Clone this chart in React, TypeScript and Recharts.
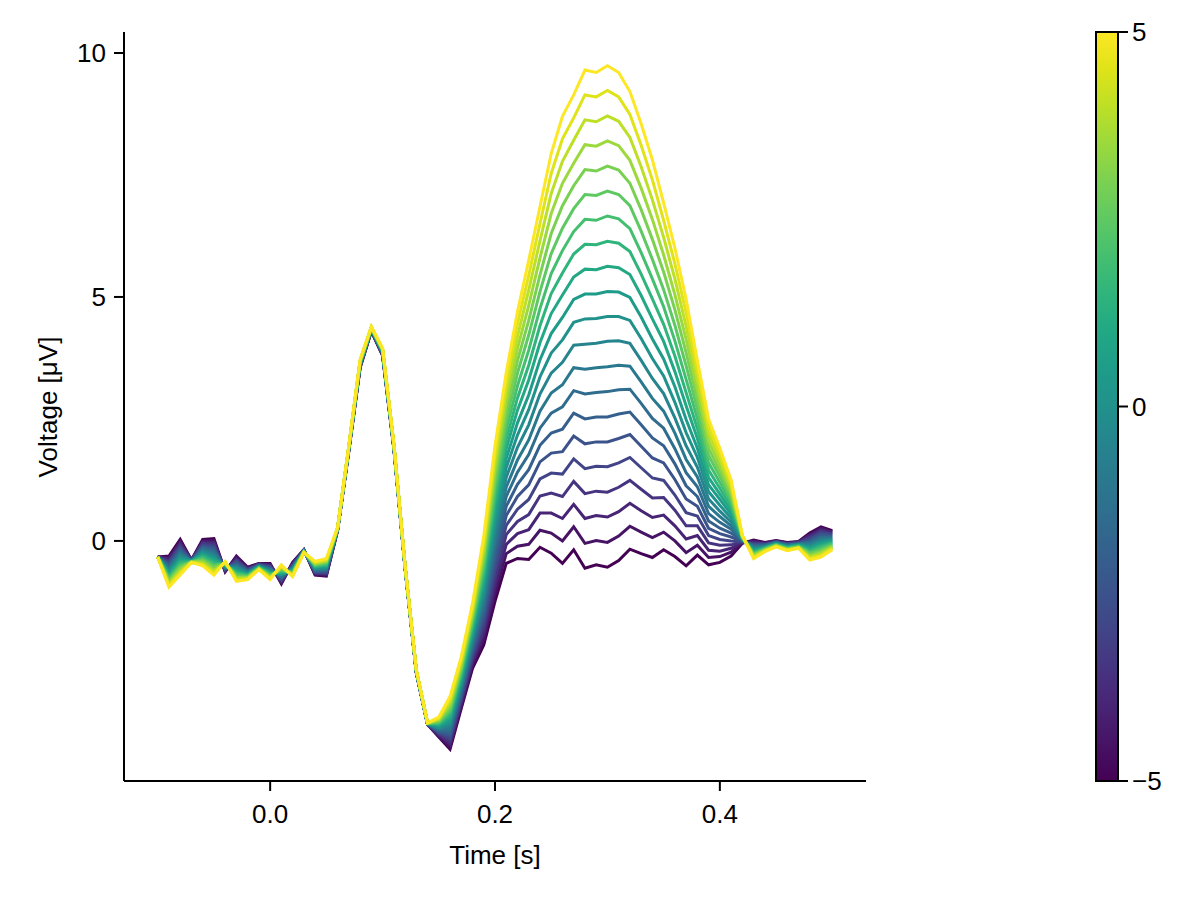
import { LineChart, Line, XAxis, YAxis } from "recharts";

// time axis, seconds
const times = [
  -0.1, -0.09, -0.08, -0.07, -0.06, -0.05, -0.04, -0.03, -0.02, -0.01,
  0.0, 0.01, 0.02, 0.03, 0.04, 0.05, 0.06, 0.07, 0.08, 0.09,
  0.1, 0.11, 0.12, 0.13, 0.14, 0.15, 0.16, 0.17, 0.18, 0.19,
  0.2, 0.21, 0.22, 0.23, 0.24, 0.25, 0.26, 0.27, 0.28, 0.29,
  0.3, 0.31, 0.32, 0.33, 0.34, 0.35, 0.36, 0.37, 0.38, 0.39,
  0.4, 0.41, 0.42, 0.43, 0.44, 0.45, 0.46, 0.47, 0.48, 0.49, 0.5,
];

// one curve per level of the continuous predictor (-5 .. 5)
const levels = [-5, -4.5, -4, -3.5, -3, -2.5, -2, -1.5, -1, -0.5, 0, 0.5, 1, 1.5, 2, 2.5, 3, 3.5, 4, 4.5, 5];

const curveM50 = [-0.33, -0.31, 0.03, -0.39, 0.03, 0.05, -0.63, -0.31, -0.54, -0.46, -0.46, -0.88, -0.44, -0.18, -0.7, -0.72, 0.22, 1.85, 3.55, 4.3, 3.8, 1.9, -0.55, -2.7, -3.76, -4.02, -4.27, -3.43, -2.61, -2.13, -1.24, -0.46, -0.36, -0.38, -0.13, -0.25, -0.46, -0.18, -0.56, -0.49, -0.54, -0.4, -0.17, -0.26, -0.34, -0.18, -0.32, -0.51, -0.29, -0.49, -0.44, -0.31, -0.05, 0.02, -0.03, 0.01, -0.03, -0.01, 0.16, 0.29, 0.21];
const curveM45 = [-0.33, -0.34, -0.01, -0.39, 0.0, 0.01, -0.62, -0.34, -0.55, -0.47, -0.48, -0.86, -0.45, -0.18, -0.69, -0.7, 0.22, 1.86, 3.56, 4.3, 3.81, 1.91, -0.55, -2.7, -3.76, -4.0, -4.22, -3.38, -2.54, -2.02, -1.08, -0.26, -0.11, -0.07, 0.22, 0.16, 0.0, 0.29, -0.05, 0.01, -0.03, 0.1, 0.3, 0.18, 0.07, 0.18, 0.0, -0.24, -0.09, -0.34, -0.32, -0.23, -0.04, 0.0, -0.04, 0.0, -0.04, -0.02, 0.13, 0.26, 0.19];
const curveM40 = [-0.33, -0.37, -0.04, -0.4, -0.02, -0.03, -0.61, -0.36, -0.57, -0.47, -0.49, -0.84, -0.47, -0.19, -0.67, -0.68, 0.23, 1.86, 3.57, 4.31, 3.82, 1.91, -0.55, -2.69, -3.76, -3.98, -4.16, -3.32, -2.48, -1.91, -0.92, -0.07, 0.15, 0.23, 0.57, 0.57, 0.46, 0.75, 0.46, 0.52, 0.49, 0.6, 0.77, 0.62, 0.48, 0.53, 0.31, 0.04, 0.11, -0.19, -0.21, -0.15, -0.03, -0.02, -0.05, 0.0, -0.05, -0.02, 0.11, 0.23, 0.17];
const curveM35 = [-0.33, -0.41, -0.08, -0.4, -0.05, -0.06, -0.6, -0.39, -0.58, -0.48, -0.51, -0.82, -0.48, -0.19, -0.66, -0.67, 0.23, 1.87, 3.57, 4.31, 3.82, 1.92, -0.54, -2.69, -3.76, -3.96, -4.11, -3.27, -2.41, -1.8, -0.76, 0.13, 0.4, 0.54, 0.92, 0.98, 0.91, 1.22, 0.97, 1.02, 1.0, 1.1, 1.24, 1.06, 0.88, 0.89, 0.63, 0.31, 0.31, -0.04, -0.09, -0.08, -0.02, -0.04, -0.06, -0.01, -0.06, -0.03, 0.08, 0.2, 0.15];
const curveM30 = [-0.33, -0.44, -0.12, -0.4, -0.08, -0.1, -0.59, -0.41, -0.59, -0.49, -0.53, -0.8, -0.5, -0.19, -0.64, -0.65, 0.23, 1.87, 3.58, 4.32, 3.83, 1.92, -0.54, -2.69, -3.75, -3.94, -4.05, -3.22, -2.34, -1.68, -0.6, 0.32, 0.65, 0.85, 1.27, 1.39, 1.37, 1.68, 1.48, 1.53, 1.52, 1.6, 1.71, 1.5, 1.29, 1.24, 0.94, 0.58, 0.51, 0.11, 0.03, 0.0, -0.02, -0.06, -0.07, -0.02, -0.06, -0.04, 0.05, 0.17, 0.13];
const curveM25 = [-0.33, -0.47, -0.15, -0.4, -0.11, -0.14, -0.58, -0.44, -0.6, -0.49, -0.54, -0.78, -0.51, -0.2, -0.63, -0.63, 0.23, 1.88, 3.59, 4.32, 3.84, 1.93, -0.54, -2.69, -3.75, -3.92, -4.0, -3.17, -2.28, -1.57, -0.44, 0.52, 0.91, 1.15, 1.62, 1.8, 1.83, 2.15, 1.99, 2.03, 2.03, 2.1, 2.18, 1.94, 1.7, 1.6, 1.26, 0.86, 0.71, 0.26, 0.15, 0.08, -0.01, -0.08, -0.08, -0.02, -0.07, -0.05, 0.02, 0.14, 0.11];
const curveM20 = [-0.33, -0.5, -0.19, -0.41, -0.13, -0.18, -0.57, -0.47, -0.62, -0.5, -0.56, -0.76, -0.53, -0.2, -0.62, -0.61, 0.24, 1.88, 3.6, 4.33, 3.85, 1.93, -0.54, -2.68, -3.75, -3.9, -3.95, -3.11, -2.21, -1.46, -0.28, 0.71, 1.16, 1.46, 1.96, 2.21, 2.29, 2.62, 2.5, 2.54, 2.54, 2.6, 2.64, 2.38, 2.11, 1.95, 1.58, 1.13, 0.91, 0.41, 0.26, 0.16, 0.0, -0.09, -0.09, -0.03, -0.08, -0.05, -0.01, 0.1, 0.09];
const curveM15 = [-0.33, -0.53, -0.23, -0.41, -0.16, -0.21, -0.56, -0.49, -0.63, -0.51, -0.58, -0.74, -0.54, -0.2, -0.6, -0.59, 0.24, 1.89, 3.61, 4.33, 3.85, 1.94, -0.53, -2.68, -3.75, -3.88, -3.89, -3.06, -2.14, -1.35, -0.12, 0.91, 1.41, 1.77, 2.31, 2.62, 2.75, 3.08, 3.01, 3.04, 3.06, 3.1, 3.11, 2.82, 2.51, 2.31, 1.89, 1.4, 1.11, 0.56, 0.38, 0.24, 0.01, -0.11, -0.1, -0.04, -0.09, -0.06, -0.03, 0.07, 0.07];
const curveM10 = [-0.33, -0.57, -0.26, -0.41, -0.19, -0.25, -0.55, -0.52, -0.64, -0.51, -0.59, -0.72, -0.56, -0.2, -0.59, -0.58, 0.24, 1.89, 3.61, 4.34, 3.86, 1.94, -0.53, -2.68, -3.75, -3.86, -3.84, -3.01, -2.08, -1.24, 0.04, 1.1, 1.66, 2.07, 2.66, 3.03, 3.2, 3.55, 3.52, 3.55, 3.57, 3.6, 3.58, 3.26, 2.92, 2.66, 2.21, 1.67, 1.31, 0.71, 0.5, 0.31, 0.02, -0.13, -0.11, -0.04, -0.1, -0.07, -0.06, 0.04, 0.05];
const curveM05 = [-0.33, -0.6, -0.3, -0.41, -0.21, -0.29, -0.54, -0.54, -0.65, -0.52, -0.61, -0.7, -0.57, -0.21, -0.57, -0.56, 0.24, 1.9, 3.62, 4.34, 3.87, 1.95, -0.53, -2.67, -3.75, -3.84, -3.78, -2.95, -2.01, -1.13, 0.2, 1.3, 1.92, 2.38, 3.01, 3.44, 3.66, 4.01, 4.03, 4.05, 4.09, 4.1, 4.05, 3.7, 3.33, 3.02, 2.52, 1.95, 1.51, 0.86, 0.61, 0.39, 0.03, -0.15, -0.12, -0.05, -0.11, -0.07, -0.09, 0.01, 0.03];
const curveP00 = [-0.33, -0.63, -0.34, -0.42, -0.24, -0.33, -0.53, -0.57, -0.67, -0.53, -0.63, -0.69, -0.59, -0.21, -0.56, -0.54, 0.25, 1.9, 3.63, 4.35, 3.88, 1.95, -0.53, -2.67, -3.75, -3.82, -3.73, -2.9, -1.95, -1.02, 0.36, 1.5, 2.17, 2.69, 3.36, 3.85, 4.12, 4.48, 4.55, 4.56, 4.6, 4.6, 4.52, 4.15, 3.74, 3.38, 2.84, 2.22, 1.71, 1.01, 0.73, 0.47, 0.04, -0.17, -0.13, -0.06, -0.12, -0.08, -0.12, -0.02, 0.02];
const curveP05 = [-0.33, -0.66, -0.37, -0.42, -0.27, -0.36, -0.51, -0.6, -0.68, -0.53, -0.64, -0.67, -0.6, -0.21, -0.55, -0.52, 0.25, 1.91, 3.64, 4.35, 3.88, 1.96, -0.52, -2.67, -3.74, -3.79, -3.68, -2.85, -1.88, -0.9, 0.51, 1.69, 2.42, 2.99, 3.71, 4.25, 4.58, 4.95, 5.06, 5.06, 5.11, 5.1, 4.99, 4.59, 4.14, 3.73, 3.16, 2.49, 1.9, 1.15, 0.85, 0.55, 0.04, -0.19, -0.13, -0.06, -0.12, -0.09, -0.14, -0.05, 0.0];
const curveP10 = [-0.33, -0.69, -0.41, -0.42, -0.29, -0.4, -0.5, -0.62, -0.69, -0.54, -0.66, -0.65, -0.61, -0.22, -0.53, -0.5, 0.25, 1.91, 3.65, 4.35, 3.89, 1.96, -0.52, -2.66, -3.74, -3.77, -3.62, -2.79, -1.81, -0.79, 0.67, 1.89, 2.68, 3.3, 4.06, 4.66, 5.04, 5.41, 5.57, 5.56, 5.63, 5.6, 5.46, 5.03, 4.55, 4.09, 3.47, 2.77, 2.1, 1.3, 0.96, 0.63, 0.05, -0.21, -0.14, -0.07, -0.13, -0.09, -0.17, -0.08, -0.02];
const curveP15 = [-0.33, -0.73, -0.44, -0.42, -0.32, -0.44, -0.49, -0.65, -0.7, -0.54, -0.67, -0.63, -0.63, -0.22, -0.52, -0.49, 0.25, 1.92, 3.65, 4.36, 3.9, 1.97, -0.52, -2.66, -3.74, -3.75, -3.57, -2.74, -1.75, -0.68, 0.83, 2.08, 2.93, 3.6, 4.41, 5.07, 5.49, 5.88, 6.08, 6.07, 6.14, 6.1, 5.93, 5.47, 4.96, 4.44, 3.79, 3.04, 2.3, 1.45, 1.08, 0.7, 0.06, -0.23, -0.15, -0.07, -0.14, -0.1, -0.2, -0.11, -0.04];
const curveP20 = [-0.33, -0.76, -0.48, -0.43, -0.35, -0.48, -0.48, -0.67, -0.72, -0.55, -0.69, -0.61, -0.64, -0.22, -0.5, -0.47, 0.26, 1.92, 3.66, 4.36, 3.91, 1.97, -0.52, -2.66, -3.74, -3.73, -3.51, -2.69, -1.68, -0.57, 0.99, 2.28, 3.18, 3.91, 4.76, 5.48, 5.95, 6.34, 6.59, 6.57, 6.66, 6.6, 6.4, 5.91, 5.37, 4.8, 4.1, 3.31, 2.5, 1.6, 1.2, 0.78, 0.07, -0.25, -0.16, -0.08, -0.15, -0.11, -0.23, -0.14, -0.06];
const curveP25 = [-0.33, -0.79, -0.52, -0.43, -0.38, -0.51, -0.47, -0.7, -0.73, -0.56, -0.71, -0.59, -0.66, -0.23, -0.49, -0.45, 0.26, 1.93, 3.67, 4.37, 3.91, 1.98, -0.51, -2.66, -3.74, -3.71, -3.46, -2.64, -1.61, -0.46, 1.15, 2.47, 3.44, 4.22, 5.11, 5.89, 6.41, 6.81, 7.1, 7.08, 7.17, 7.1, 6.87, 6.35, 5.77, 5.15, 4.42, 3.59, 2.7, 1.75, 1.32, 0.86, 0.08, -0.27, -0.17, -0.09, -0.16, -0.12, -0.25, -0.18, -0.08];
const curveP30 = [-0.33, -0.82, -0.55, -0.43, -0.4, -0.55, -0.46, -0.73, -0.74, -0.56, -0.72, -0.57, -0.67, -0.23, -0.48, -0.43, 0.26, 1.93, 3.68, 4.37, 3.92, 1.98, -0.51, -2.65, -3.74, -3.69, -3.41, -2.58, -1.55, -0.35, 1.31, 2.67, 3.69, 4.52, 5.45, 6.3, 6.87, 7.28, 7.61, 7.58, 7.68, 7.6, 7.33, 6.79, 6.18, 5.51, 4.74, 3.86, 2.9, 1.9, 1.43, 0.94, 0.09, -0.28, -0.18, -0.09, -0.17, -0.12, -0.28, -0.21, -0.1];
const curveP35 = [-0.33, -0.85, -0.59, -0.43, -0.43, -0.59, -0.45, -0.75, -0.75, -0.57, -0.74, -0.55, -0.69, -0.23, -0.46, -0.41, 0.26, 1.94, 3.69, 4.38, 3.93, 1.99, -0.51, -2.65, -3.73, -3.67, -3.35, -2.53, -1.48, -0.23, 1.47, 2.86, 3.94, 4.83, 5.8, 6.71, 7.33, 7.74, 8.12, 8.09, 8.2, 8.1, 7.8, 7.23, 6.59, 5.86, 5.05, 4.13, 3.1, 2.05, 1.55, 1.02, 0.09, -0.3, -0.19, -0.1, -0.17, -0.13, -0.31, -0.24, -0.12];
const curveP40 = [-0.33, -0.89, -0.63, -0.44, -0.46, -0.63, -0.44, -0.78, -0.77, -0.58, -0.76, -0.53, -0.7, -0.23, -0.45, -0.4, 0.27, 1.94, 3.69, 4.38, 3.94, 1.99, -0.51, -2.65, -3.73, -3.65, -3.3, -2.48, -1.41, -0.12, 1.63, 3.06, 4.19, 5.14, 6.15, 7.12, 7.78, 8.21, 8.63, 8.59, 8.71, 8.6, 8.27, 7.67, 6.99, 6.22, 5.37, 4.4, 3.3, 2.2, 1.67, 1.09, 0.1, -0.32, -0.2, -0.11, -0.18, -0.14, -0.34, -0.27, -0.14];
const curveP45 = [-0.33, -0.92, -0.66, -0.44, -0.48, -0.66, -0.43, -0.8, -0.78, -0.58, -0.77, -0.51, -0.72, -0.24, -0.43, -0.38, 0.27, 1.95, 3.7, 4.39, 3.94, 2.0, -0.5, -2.64, -3.73, -3.63, -3.24, -2.42, -1.35, -0.01, 1.79, 3.25, 4.45, 5.44, 6.5, 7.53, 8.24, 8.67, 9.14, 9.1, 9.23, 9.1, 8.74, 8.11, 7.4, 6.57, 5.68, 4.68, 3.5, 2.35, 1.78, 1.17, 0.11, -0.34, -0.21, -0.11, -0.19, -0.14, -0.36, -0.3, -0.16];
const curveP50 = [-0.33, -0.95, -0.7, -0.44, -0.51, -0.7, -0.42, -0.83, -0.79, -0.59, -0.79, -0.49, -0.73, -0.24, -0.42, -0.36, 0.27, 1.95, 3.71, 4.39, 3.95, 2.0, -0.5, -2.64, -3.73, -3.61, -3.19, -2.37, -1.28, 0.1, 1.95, 3.45, 4.7, 5.75, 6.85, 7.94, 8.7, 9.14, 9.65, 9.6, 9.74, 9.6, 9.21, 8.55, 7.81, 6.93, 6.0, 4.95, 3.7, 2.5, 1.9, 1.25, 0.12, -0.36, -0.22, -0.12, -0.2, -0.15, -0.39, -0.33, -0.18];

const curves = [
  curveM50, curveM45, curveM40, curveM35, curveM30, curveM25, curveM20,
  curveM15, curveM10, curveM05, curveP00, curveP05, curveP10, curveP15,
  curveP20, curveP25, curveP30, curveP35, curveP40, curveP45, curveP50,
];

// viridis, sampled at the 21 levels
const viridis = [
  "#440154", "#471365", "#482475", "#463480", "#414487", "#3b528b", "#355f8d",
  "#2f6c8e", "#2a788e", "#25848e", "#21918c", "#1e9c89", "#22a884", "#2fb47c",
  "#44bf70", "#5ec962", "#7ad151", "#9bd93c", "#bddf26", "#dfe318", "#fde725",
];

const xTicks = [0, 0.2, 0.4];
const yTicks = [0, 5, 10];
const cbarTicks = [5, 0, -5];

const font = "'Liberation Sans', Arial, sans-serif";
const fs = 26;

const data = times.map((t, i) => {
  const row: Record<string, number> = { t };
  curves.forEach((c, k) => {
    row["l" + k] = c[i];
  });
  return row;
});

// colorbar geometry (page px)
const cb = { x: 1096, y: 32, w: 22, h: 749 };

export default function App() {
  return (
    <div style={{ position: "absolute", left: 0, top: 0, width: 1200, height: 900, background: "#fff" }}>
      <LineChart
        width={1200}
        height={900}
        data={data}
        margin={{ top: 32, right: 334, bottom: 59, left: 0 }}
      >
        <XAxis
          dataKey="t"
          type="number"
          domain={[-0.13, 0.53]}
          ticks={xTicks}
          tickFormatter={(v: number) => v.toFixed(1)}
          height={60}
          tickSize={10}
          tickMargin={14}
          axisLine={{ stroke: "#000", strokeWidth: 2 }}
          tickLine={{ stroke: "#000", strokeWidth: 2 }}
          tick={{ fill: "#000", fontSize: fs, fontFamily: font }}
          allowDataOverflow
        />
        <YAxis
          type="number"
          domain={[-4.92, 10.43]}
          ticks={yTicks}
          width={124}
          tickSize={10}
          tickMargin={8}
          axisLine={{ stroke: "#000", strokeWidth: 2 }}
          tickLine={{ stroke: "#000", strokeWidth: 2 }}
          tick={{ fill: "#000", fontSize: fs, fontFamily: font }}
          allowDataOverflow
        />
        {curves.map((_, k) => (
          <Line
            key={k}
            type="linear"
            dataKey={"l" + k}
            name={String(levels[k])}
            stroke={viridis[k]}
            strokeWidth={3}
            dot={false}
            isAnimationActive={false}
          />
        ))}
      </LineChart>
      <svg
        width={1200}
        height={900}
        style={{ position: "absolute", left: 0, top: 0, pointerEvents: "none" }}
        fontFamily={font}
      >
        <text x={495} y={864} textAnchor="middle" fontSize={fs} fill="#000">
          Time [s]
        </text>
        <text
          x={57}
          y={407}
          textAnchor="middle"
          fontSize={fs}
          fill="#000"
          transform="rotate(-90 57 407)"
        >
          Voltage [μV]
        </text>
        <defs>
          <linearGradient id="vir" x1="0" y1="1" x2="0" y2="0">
            {viridis.map((c, i) => (
              <stop key={i} offset={i / (viridis.length - 1)} stopColor={c} />
            ))}
          </linearGradient>
        </defs>
        <rect x={cb.x} y={cb.y} width={cb.w} height={cb.h} fill="url(#vir)" stroke="#000" strokeWidth={2} />
        {cbarTicks.map((v) => {
          const y = cb.y + ((5 - v) / 10) * cb.h;
          return (
            <g key={v}>
              <line x1={cb.x + cb.w} x2={cb.x + cb.w + 10} y1={y} y2={y} stroke="#000" strokeWidth={2} />
              <text x={cb.x + cb.w + 14} y={y} dy="0.36em" fontSize={fs} fill="#000">
                {v < 0 ? "\u2212" + Math.abs(v) : String(v)}
              </text>
            </g>
          );
        })}
      </svg>
    </div>
  );
}
